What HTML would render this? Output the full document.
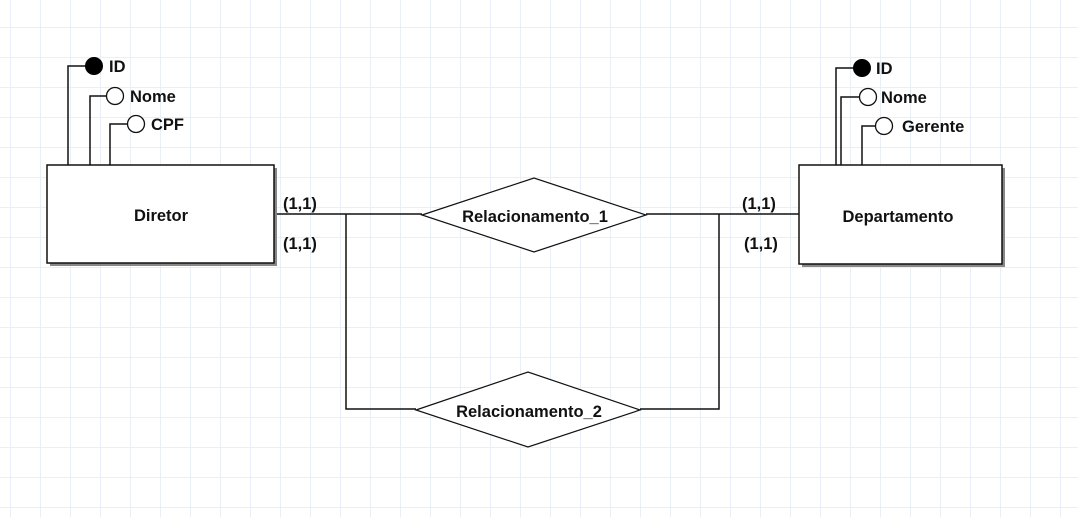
<!DOCTYPE html>
<html><head><style>
body{margin:0;width:1078px;height:517px;overflow:hidden;background:#fff;
background-image:linear-gradient(#e9eff7 1px,transparent 1px),linear-gradient(90deg,#e9eff7 1px,transparent 1px);
background-size:30px 30px;background-position:10px 27px;}
svg{position:absolute;left:0;top:0}
text{font-family:"Liberation Sans",sans-serif;font-weight:bold;font-size:16.5px;fill:#111}
</style></head><body>
<svg width="1078" height="517">
<g fill="none" stroke="#111" stroke-width="1.5">
<polyline points="68,165 68,66 86,66"/>
<polyline points="90,165 90,96 107,96"/>
<polyline points="110,165 110,124 128,124"/>
<polyline points="836,165 836,68 854,68"/>
<polyline points="841,165 841,97 860,97"/>
<polyline points="862,165 862,126 876,126"/>
<line x1="274" y1="214" x2="422" y2="214"/>
<line x1="646" y1="214" x2="799" y2="214"/>
<polyline points="346,214 346,409 416,409"/>
<polyline points="719,214 719,409 640,409"/>
</g>
<rect x="50" y="168" width="227" height="98" fill="#888"/>
<rect x="47" y="165" width="227" height="98" fill="#fff" stroke="#111" stroke-width="1.5"/>
<rect x="802" y="168" width="203" height="99" fill="#888"/>
<rect x="799" y="165" width="203" height="99" fill="#fff" stroke="#111" stroke-width="1.5"/>
<circle cx="94" cy="66" r="8.5" fill="#000" stroke="#000"/>
<circle cx="115" cy="96" r="8.5" fill="#fff" stroke="#111" stroke-width="1.3"/>
<circle cx="136" cy="124" r="8.5" fill="#fff" stroke="#111" stroke-width="1.3"/>
<circle cx="862" cy="68" r="8.5" fill="#000" stroke="#000"/>
<circle cx="868" cy="97" r="8.5" fill="#fff" stroke="#111" stroke-width="1.3"/>
<circle cx="884" cy="126" r="8.5" fill="#fff" stroke="#111" stroke-width="1.3"/>
<polygon points="422,215 534,178 646,215 534,252" fill="#fff" stroke="#111" stroke-width="1.2"/>
<polygon points="416,410 528,372 640,410 528,447" fill="#fff" stroke="#111" stroke-width="1.2"/>
<text x="109" y="72">ID</text>
<text x="130" y="102">Nome</text>
<text x="151" y="130">CPF</text>
<text x="876" y="74">ID</text>
<text x="881" y="103">Nome</text>
<text x="902" y="132">Gerente</text>
<text x="161" y="221" text-anchor="middle">Diretor</text>
<text x="898" y="222" text-anchor="middle">Departamento</text>
<text x="535" y="222" text-anchor="middle">Relacionamento_1</text>
<text x="529" y="417" text-anchor="middle">Relacionamento_2</text>
<text x="283" y="209">(1,1)</text>
<text x="283" y="249">(1,1)</text>
<text x="742" y="209">(1,1)</text>
<text x="744" y="249">(1,1)</text>
</svg>
</body></html>
